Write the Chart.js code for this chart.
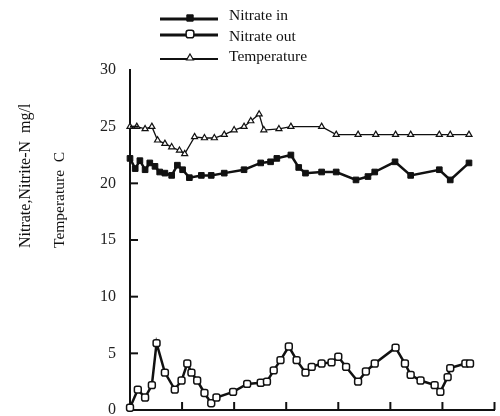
<!DOCTYPE html>
<html>
<head>
<meta charset="utf-8">
<script src="https://cdn.jsdelivr.net/npm/chart.js@4.4.1/dist/chart.umd.min.js"></script>
<style>
  html, body { margin: 0; padding: 0; background: #fff; overflow: hidden; }
  canvas { display: block; }
</style>
</head>
<body>
<canvas id="nitrate" width="500" height="416"></canvas>
<script>
'use strict';
// days (x) and values
var tempDays = [0, 1.3, 2.9, 4.2, 5.3, 6.7, 8, 9.5, 10.5, 12.4, 14.3, 16.2, 18.1, 20, 21.9, 23.2, 24.8, 25.7, 28.6, 30.9, 36.8, 39.6, 43.8, 47.2, 51, 53.9, 59.4, 61.5, 65.1];
var tempVals = [25, 25, 24.8, 25, 23.8, 23.5, 23.2, 22.9, 22.6, 24.1, 24, 24, 24.3, 24.7, 25, 25.5, 26.1, 24.7, 24.8, 25, 25, 24.3, 24.3, 24.3, 24.3, 24.3, 24.3, 24.3, 24.3];

var inDays = [0, 1, 1.9, 2.9, 3.8, 4.8, 5.7, 6.7, 8, 9.1, 10.1, 11.4, 13.7, 15.6, 18.1, 21.9, 25.1, 27, 28.2, 30.9, 32.4, 33.7, 36.8, 39.6, 43.4, 45.7, 47, 50.9, 53.9, 59.4, 61.5, 65.1];
var inVals = [22.2, 21.3, 22, 21.2, 21.8, 21.5, 21, 20.9, 20.7, 21.6, 21.2, 20.5, 20.7, 20.7, 20.9, 21.2, 21.8, 21.9, 22.2, 22.5, 21.4, 20.9, 21, 21, 20.3, 20.6, 21, 21.9, 20.7, 21.2, 20.3, 21.8];

var outDays = [0, 1.5, 2.9, 4.2, 5.1, 6.7, 8.6, 9.9, 11, 11.8, 12.9, 14.3, 15.6, 16.6, 19.8, 22.5, 25.1, 26.3, 27.6, 28.9, 30.5, 32, 33.7, 34.9, 36.8, 38.7, 40, 41.5, 43.8, 45.3, 47, 51, 52.8, 53.9, 55.8, 58.5, 59.6, 61, 61.5, 64.4, 65.3];
var outVals = [0.2, 1.8, 1.1, 2.2, 5.9, 3.3, 1.8, 2.6, 4.1, 3.3, 2.6, 1.5, 0.6, 1.1, 1.6, 2.3, 2.4, 2.5, 3.5, 4.4, 5.6, 4.4, 3.3, 3.8, 4.1, 4.2, 4.7, 3.8, 2.5, 3.4, 4.1, 5.5, 4.1, 3.1, 2.6, 2.2, 1.6, 2.9, 3.7, 4.1, 4.1];

var yTicks = [0, 5, 10, 15, 20, 25, 30];
var seriesNames = ['Nitrate in', 'Nitrate out', 'Temperature'];

function pts(xs, ys) {
  return xs.map(function (x, i) { return { x: x, y: ys[i] }; });
}

var ink = '#111';
var serif = '"Liberation Serif", "DejaVu Serif", serif';

// legend stacked above the plot, like the original
var stackLegend = {
  id: 'stackLegend',
  afterDraw: function (chart) {
    var ctx = chart.ctx;
    var lineRows = [19, 35, 59];
    var textRows = [16, 37, 57];
    ctx.save();
    chart.data.datasets.forEach(function (ds, i) {
      var y = lineRows[i];
      ctx.strokeStyle = ds.borderColor;
      ctx.lineWidth = ds.borderWidth + 0.5;
      ctx.beginPath();
      ctx.moveTo(160, y);
      ctx.lineTo(218, y);
      ctx.stroke();
      ctx.fillStyle = ds.pointBackgroundColor;
      ctx.lineWidth = ds.pointBorderWidth;
      Chart.helpers.drawPoint(ctx, {
        pointStyle: ds.pointStyle, radius: ds.pointRadius + 0.5, rotation: 0, borderWidth: ds.pointBorderWidth
      }, 190, y - 1);
      ctx.fillStyle = ink;
      ctx.font = '15.5px ' + serif;
      ctx.textBaseline = 'middle';
      ctx.textAlign = 'left';
      ctx.fillText(ds.label, 229, textRows[i]);
    });
    ctx.restore();
  }
};

// inward tick marks and the two rotated axis titles
var axisExtras = {
  id: 'axisExtras',
  afterDraw: function (chart) {
    var ctx = chart.ctx, xs = chart.scales.x, ys = chart.scales.y;
    var area = chart.chartArea;
    ctx.save();
    ctx.strokeStyle = ink;
    ctx.lineWidth = 2;
    ys.ticks.forEach(function (t) {
      if (t.value === 0 || t.value === 30) return;
      var py = ys.getPixelForValue(t.value);
      ctx.beginPath();
      ctx.moveTo(area.left, py);
      ctx.lineTo(area.left + 8, py);
      ctx.stroke();
    });
    xs.ticks.forEach(function (t) {
      if (t.value <= 0) return;
      var px = xs.getPixelForValue(t.value);
      ctx.beginPath();
      ctx.moveTo(px, area.bottom);
      ctx.lineTo(px, area.bottom - 8);
      ctx.stroke();
    });
    ctx.fillStyle = ink;
    ctx.textBaseline = 'middle';
    ctx.textAlign = 'right';
    ctx.font = '16px ' + serif;
    ctx.translate(26, 248);
    ctx.rotate(-Math.PI / 2);
    ctx.textAlign = 'left';
    ctx.fillText('Nitrate,Nitrite-N  mg/l', 0, 0);
    ctx.rotate(Math.PI / 2);
    ctx.translate(-26, -248);
    ctx.font = '15.5px ' + serif;
    ctx.translate(60, 248);
    ctx.rotate(-Math.PI / 2);
    ctx.fillText('Temperature  C', 0, 0);
    ctx.restore();
  }
};

new Chart(document.getElementById('nitrate').getContext('2d'), {
  type: 'line',
  data: {
    datasets: [{
      label: seriesNames[0],
      data: pts(inDays, inVals),
      borderColor: ink,
      borderWidth: 2.5,
      pointStyle: 'rect',
      pointRadius: 4,
      pointBackgroundColor: ink,
      pointBorderColor: ink,
      pointBorderWidth: 1,
      clip: false
    }, {
      label: seriesNames[1],
      data: pts(outDays, outVals),
      borderColor: ink,
      borderWidth: 2.5,
      pointStyle: 'rectRounded',
      pointRadius: 4,
      pointBackgroundColor: '#fff',
      pointBorderColor: ink,
      pointBorderWidth: 1.5,
      clip: false
    }, {
      label: seriesNames[2],
      data: pts(tempDays, tempVals),
      borderColor: ink,
      borderWidth: 1.3,
      pointStyle: 'triangle',
      pointRadius: 3.5,
      pointBackgroundColor: '#fff',
      pointBorderColor: ink,
      pointBorderWidth: 1.2,
      clip: false
    }]
  },
  options: {
    responsive: false,
    animation: false,
    layout: { padding: { top: 70, left: 0, right: 0, bottom: 6 } },
    plugins: {
      legend: { display: false },
      tooltip: { enabled: false }
    },
    scales: {
      x: {
        type: 'linear',
        min: 0,
        max: 70,
        ticks: { display: false, stepSize: 10 },
        grid: { display: false, drawTicks: false },
        border: { display: true, color: ink, width: 2 },
        afterFit: function (s) { s.height = 0; s.paddingLeft = 0; s.paddingRight = 0; }
      },
      y: {
        min: 0,
        max: 30,
        afterBuildTicks: function (s) { s.ticks = yTicks.map(function (v) { return { value: v }; }); },
        ticks: { color: '#222', font: { family: serif, size: 16 }, padding: 14 },
        grid: { display: false, drawTicks: false },
        border: { display: true, color: ink, width: 2 },
        afterFit: function (s) { s.width = 130; s.paddingTop = 0; s.paddingBottom = 0; }
      }
    }
  },
  plugins: [stackLegend, axisExtras]
});
</script>
</body>
</html>
